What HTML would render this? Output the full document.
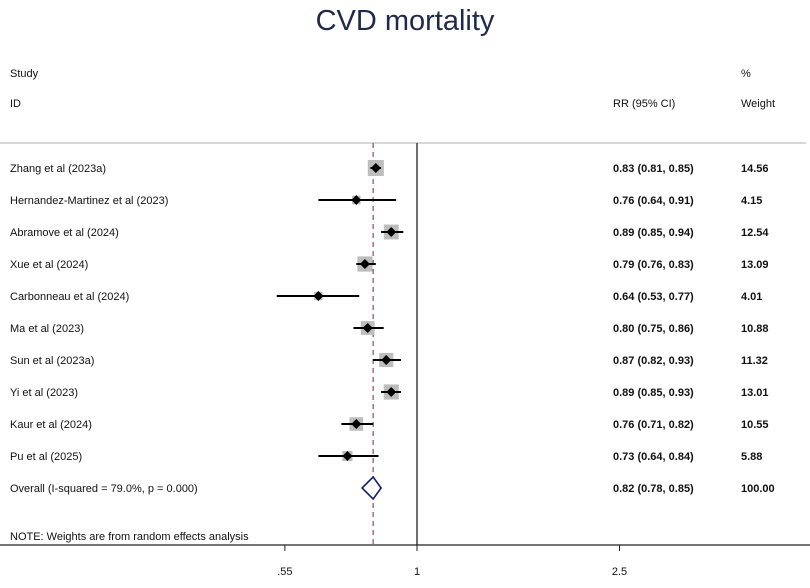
<!DOCTYPE html>
<html><head><meta charset="utf-8"><style>
body{margin:0;background:#fff;width:810px;height:583px;overflow:hidden}
svg text{font-family:"Liberation Sans",Arial,sans-serif}
</style></head><body>
<svg id="chart" width="810" height="583">
<text x="405" y="30" text-anchor="middle" font-size="29" fill="#1f2a4a">CVD mortality</text>
<g font-size="11" fill="#111">
<text x="10" y="77">Study</text>
<text x="10" y="107">ID</text>
<text x="613" y="107">RR (95% CI)</text>
<text x="741" y="77">%</text>
<text x="741" y="107">Weight</text>
</g>
<line x1="0" y1="143" x2="806" y2="143" stroke="#ccc" stroke-width="1.5"/>
<g id="marks"></g>
<text x="10" y="540" font-size="11" fill="#111">NOTE: Weights are from random effects analysis</text>
</svg>
<script>
const studies=["Zhang et al (2023a)","Hernandez-Martinez et al (2023)","Abramove et al (2024)","Xue et al (2024)","Carbonneau et al (2024)","Ma et al (2023)","Sun et al (2023a)","Yi et al (2023)","Kaur et al (2024)","Pu et al (2025)"];
const rr=[0.83,0.76,0.89,0.79,0.64,0.80,0.87,0.89,0.76,0.73];
const lo=[0.81,0.64,0.85,0.76,0.53,0.75,0.82,0.85,0.71,0.64];
const hi=[0.85,0.91,0.94,0.83,0.77,0.86,0.93,0.93,0.82,0.84];
const weights=[14.56,4.15,12.54,13.09,4.01,10.88,11.32,13.01,10.55,5.88];
const overall=[0.82,0.78,0.85];
const tickVals=[0.55,1,2.5];
const tickLabels=[".55","1","2.5"];
const NS="http://www.w3.org/2000/svg";
const g=document.getElementById('marks');
const X=v=>417+221*Math.log(v);
const Y=i=>168+32*i;
function mk(t,a,p){const e=document.createElementNS(NS,t);for(const k in a)e.setAttribute(k,a[k]);(p||g).appendChild(e);return e;}
const f2=v=>v.toFixed(2);
// axis
let ax=mk('line',{x1:0,y1:545,x2:810,y2:545,stroke:'#222','stroke-width':1.2});


tickVals.forEach((v,i)=>{
 let t=mk('line',{x1:X(v),y1:545,x2:X(v),y2:551,stroke:'#222'});
 
 
 let l=mk('text',{x:X(v),y:575,'text-anchor':'middle','font-size':11,fill:'#111'});l.textContent=tickLabels[i];
 
 
});
let nl=mk('line',{x1:X(1),y1:143,x2:X(1),y2:545,stroke:'#222','stroke-width':1.3});


let dl=mk('line',{x1:X(overall[0]),y1:143,x2:X(overall[0]),y2:545,stroke:'#9b4a5a','stroke-width':1.2,'stroke-dasharray':'5,4'});


studies.forEach((s,i)=>{
 const y=Y(i);
 const sz=16*Math.sqrt(weights[i]/14.56);
 let b=mk('rect',{x:X(rr[i])-sz/2,y:y-sz/2,width:sz,height:sz,fill:'#bdbdbd'});
 
 
 let c=mk('line',{x1:X(lo[i]),y1:y,x2:X(hi[i]),y2:y,stroke:'#000','stroke-width':2});
 
 
 const px=X(rr[i]);
 let d=mk('polygon',{points:`${px-5},${y} ${px},${y-5} ${px+5},${y} ${px},${y+5}`,fill:'#000'});
 
 
 let t=mk('text',{x:10,y:y+4,'font-size':11,fill:'#111'});t.textContent=s;
 
 
 let r=mk('text',{x:613,y:y+4,'font-size':11,'font-weight':'bold',fill:'#111'});r.textContent=`${f2(rr[i])} (${f2(lo[i])}, ${f2(hi[i])})`;
 
 
 let w=mk('text',{x:741,y:y+4,'font-size':11,'font-weight':'bold',fill:'#111'});w.textContent=f2(weights[i]);
 
 
});
const oy=Y(10);
let od=mk('polygon',{points:`${X(overall[1])},${oy} ${X(overall[0])},${oy-11} ${X(overall[2])},${oy} ${X(overall[0])},${oy+11}`,fill:'#fff',stroke:'#1a1f6e','stroke-width':1.6});


let ot=mk('text',{x:10,y:oy+4,'font-size':11,fill:'#111'});ot.textContent='Overall  (I-squared = 79.0%, p = 0.000)';


let orr=mk('text',{x:613,y:oy+4,'font-size':11,'font-weight':'bold',fill:'#111'});orr.textContent=`${f2(overall[0])} (${f2(overall[1])}, ${f2(overall[2])})`;


let ow=mk('text',{x:741,y:oy+4,'font-size':11,'font-weight':'bold',fill:'#111'});ow.textContent='100.00';


</script>
</body></html>
